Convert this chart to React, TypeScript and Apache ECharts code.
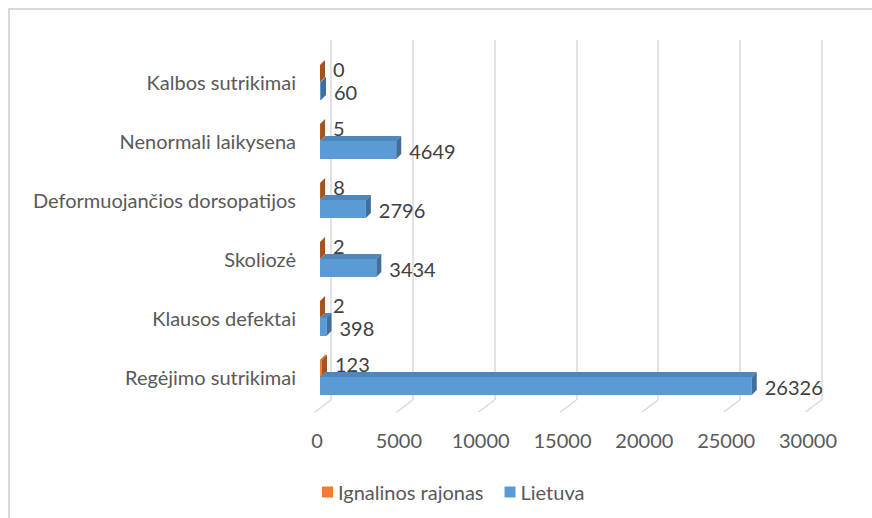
import React, { useEffect, useRef } from "react";
import * as echarts from "echarts";

const categories = [
  "Kalbos sutrikimai",
  "Nenormali laikysena",
  "Deformuojančios dorsopatijos",
  "Skoliozė",
  "Klausos defektai",
  "Regėjimo sutrikimai",
];
const ignalinos = [0, 5, 8, 2, 2, 123];
const lietuva = [60, 4649, 2796, 3434, 398, 26326];
const xTicks = [0, 5000, 10000, 15000, 20000, 25000, 30000];
const seriesNames = ["Ignalinos rajonas", "Lietuva"];

const FONT = "Lato";
const FS = 20;

const palettes = [
  { front: "#ED7D31", top: "#c8682a", side: "#a5521d" },
  { front: "#5B9BD5", top: "#4f86bb", side: "#3f6f9c" },
];

function makeRender(seriesIdx: number) {
  return (params: any, api: any) => {
    const v = api.value(0);
    const idx = api.value(1);
    const p0 = api.coord([0, idx]);
    const p1 = api.coord([v, idx]);
    const x0 = p0[0];
    const b = p0[1];
    const x1 = p1[0];
    const d = 5;
    const y0 = seriesIdx === 0 ? b - 17 : b;
    const y1 = seriesIdx === 0 ? b : b + 18;
    const pal = palettes[seriesIdx];
    const labelY = seriesIdx === 0 ? b - 13 : b + 10;
    return {
      type: "group",
      children: [
        {
          type: "rect",
          shape: { x: x0, y: y0, width: Math.max(x1 - x0, 0), height: y1 - y0 },
          style: { fill: pal.front },
        },
        {
          type: "polygon",
          shape: { points: [[x0, y0], [x0 + d, y0 - d], [x1 + d, y0 - d], [x1, y0]] },
          style: { fill: pal.top },
        },
        {
          type: "polygon",
          shape: { points: [[x1, y0], [x1 + d, y0 - d], [x1 + d, y1 - d], [x1, y1]] },
          style: { fill: pal.side },
        },
        {
          type: "text",
          style: {
            text: String(v),
            x: x1 + d + 8,
            y: labelY,
            fill: "#404040",
            fontSize: FS,
            lineHeight: 20,
            fontFamily: FONT,
            align: "left",
            verticalAlign: "middle",
          },
        },
      ],
    };
  };
}

export default function App() {
  const ref = useRef<HTMLDivElement>(null);
  useEffect(() => {
    if (!ref.current) return;
    const chart = echarts.init(ref.current, undefined, { renderer: "svg" });
    const option: any = {
      animation: false,
      backgroundColor: "#ffffff",
      textStyle: { fontFamily: FONT },
      graphic: [
        {
          type: "rect",
          shape: { x: 9, y: 9, width: 900, height: 600 },
          style: { fill: "none", stroke: "#d9d9d9", lineWidth: 2 },
          silent: true,
          z: -10,
        },
      ],
      legend: {
        data: seriesNames,
        left: 317,
        top: 477,
        icon: "rect",
        itemWidth: 11,
        itemHeight: 11,
        itemGap: 21,
        textStyle: { color: "#595959", fontSize: FS, fontFamily: FONT },
      },
      grid: [
        { left: 320, right: 60, top: 52.5, height: 354 },
        { left: 331, right: 50.5, top: 40, bottom: 118 },
        { left: 317, right: 64, top: 52.5, height: 354 },
      ],
      xAxis: [
        {
          type: "value",
          gridIndex: 0,
          min: 0,
          max: 30000,
          interval: 5000,
          axisLabel: { show: false },
          axisLine: { show: false },
          axisTick: { show: false },
          splitLine: { show: false },
        },
        {
          type: "value",
          gridIndex: 1,
          min: 0,
          max: 30000,
          interval: 5000,
          axisLabel: { show: false },
          axisLine: { show: false },
          axisTick: { show: false },
          splitLine: { show: true, lineStyle: { color: "#d9d9d9", width: 1.5 } },
        },
        {
          type: "value",
          gridIndex: 2,
          min: 0,
          max: 30000,
          interval: 5000,
          axisLabel: {
            show: true,
            color: "#595959",
            fontSize: FS,
            fontFamily: FONT,
            margin: 23,
            formatter: (v: number) => (xTicks.includes(v) ? String(v) : ""),
          },
          axisLine: { show: false },
          axisTick: { show: false },
          splitLine: { show: false },
        },
      ],
      yAxis: [
        {
          type: "category",
          gridIndex: 0,
          data: categories,
          inverse: true,
          axisLine: { show: false },
          axisTick: { show: false },
          axisLabel: { color: "#595959", fontSize: FS, fontFamily: FONT, margin: 24 },
        },
        { type: "value", gridIndex: 1, min: 0, max: 1, show: false },
        { type: "value", gridIndex: 2, min: 0, max: 1, show: false },
      ],
      series: [
        {
          type: "custom",
          name: "floor",
          xAxisIndex: 1,
          yAxisIndex: 1,
          silent: true,
          data: xTicks.map((t) => [t, 0]),
          renderItem: (params: any, api: any) => {
            const p = api.coord([api.value(0), 0]);
            return {
              type: "line",
              shape: { x1: p[0], y1: p[1], x2: p[0] - 16, y2: p[1] + 12 },
              style: { stroke: "#d9d9d9", lineWidth: 1.5 },
            };
          },
          z: 1,
        },
        {
          type: "custom",
          name: seriesNames[0],
          xAxisIndex: 0,
          yAxisIndex: 0,
          itemStyle: { color: palettes[0].front },
          data: ignalinos.map((v, i) => [v, i]),
          renderItem: makeRender(0),
          z: 2,
        },
        {
          type: "custom",
          name: seriesNames[1],
          xAxisIndex: 0,
          yAxisIndex: 0,
          itemStyle: { color: palettes[1].front },
          data: lietuva.map((v, i) => [v, i]),
          renderItem: makeRender(1),
          z: 3,
        },
      ],
    };
    chart.setOption(option);
    return () => chart.dispose();
  }, []);
  return (
    <div
      ref={ref}
      style={{ position: "fixed", left: 0, top: 0, width: 872, height: 518 }}
    />
  );
}
